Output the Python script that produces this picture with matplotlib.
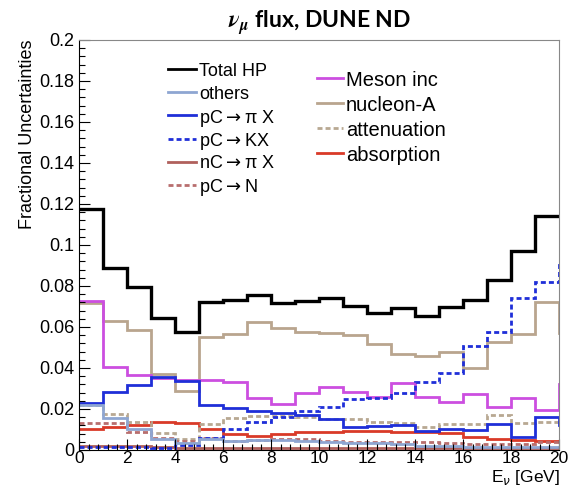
import matplotlib
matplotlib.use("Agg")
import matplotlib.pyplot as plt
import numpy as np
from matplotlib.ticker import MultipleLocator, FuncFormatter

plt.rcParams['font.family'] = ['Liberation Sans', 'DejaVu Sans']
plt.rcParams['mathtext.fontset'] = 'dejavusans'

# energy bins (GeV); the last bin sits past the plotted range
edges = np.arange(0, 22, 1)

total_hp = [0.1176, 0.0886, 0.0797, 0.0645, 0.0577, 0.0723, 0.0730, 0.0756, 0.0715, 0.0725,
            0.0740, 0.0704, 0.0667, 0.0691, 0.0654, 0.0696, 0.0732, 0.0829, 0.0972, 0.1141, 0.1141]
others = [0.0220, 0.0155, 0.0101, 0.0055, 0.0034, 0.0052, 0.0045, 0.0050, 0.0050, 0.0045,
          0.0040, 0.0035, 0.0035, 0.0030, 0.0020, 0.0020, 0.0015, 0.0015, 0.0015, 0.0015, 0.0015]
pc_pix = [0.0231, 0.0285, 0.0317, 0.0358, 0.0338, 0.0220, 0.0206, 0.0190, 0.0179, 0.0171,
          0.0150, 0.0111, 0.0117, 0.0122, 0.0094, 0.0101, 0.0098, 0.0127, 0.0062, 0.0163, 0.0120]
pc_kx = [0.0016, 0.0016, 0.0015, 0.0012, 0.0024, 0.0057, 0.0102, 0.0135, 0.0159, 0.0190,
         0.0211, 0.0247, 0.0252, 0.0276, 0.0333, 0.0374, 0.0509, 0.0574, 0.0740, 0.0821, 0.0900]
nc_pix = [0.0018, 0.0018, 0.0018, 0.0015, 0.0010, 0.0012, 0.0012, 0.0012, 0.0012, 0.0012,
          0.0010, 0.0010, 0.0010, 0.0010, 0.0008, 0.0008, 0.0008, 0.0008, 0.0008, 0.0008, 0.0008]
pc_n = [0.0133, 0.0133, 0.0089, 0.0057, 0.0044, 0.0057, 0.0044, 0.0050, 0.0052, 0.0052,
        0.0045, 0.0040, 0.0038, 0.0040, 0.0037, 0.0033, 0.0030, 0.0030, 0.0030, 0.0037, 0.0037]
meson_inc = [0.0728, 0.0406, 0.0364, 0.0352, 0.0341, 0.0340, 0.0333, 0.0252, 0.0224, 0.0278,
             0.0309, 0.0285, 0.0257, 0.0325, 0.0260, 0.0236, 0.0273, 0.0211, 0.0252, 0.0195, 0.0320]
nucleon_a = [0.0719, 0.0631, 0.0585, 0.0371, 0.0289, 0.0550, 0.0566, 0.0626, 0.0593, 0.0577,
             0.0569, 0.0561, 0.0517, 0.0468, 0.0460, 0.0480, 0.0401, 0.0525, 0.0564, 0.0723, 0.0570]
attenuation = [0.0220, 0.0174, 0.0138, 0.0085, 0.0052, 0.0125, 0.0158, 0.0167, 0.0167, 0.0161,
               0.0150, 0.0150, 0.0138, 0.0133, 0.0114, 0.0125, 0.0125, 0.0171, 0.0130, 0.0138, 0.0138]
absorption = [0.0101, 0.0114, 0.0122, 0.0138, 0.0133, 0.0101, 0.0078, 0.0068, 0.0078, 0.0086,
              0.0089, 0.0094, 0.0092, 0.0089, 0.0089, 0.0085, 0.0062, 0.0052, 0.0049, 0.0045, 0.0045]

dots = (0, (1.8, 1.1))

fig = plt.figure(figsize=(5.81, 4.87), dpi=100)
ax = fig.add_axes([0.136, 0.076, 0.826, 0.842])

# left legend column
left = [
    ("Total HP", total_hp, "black", "-", 2.4),
    ("others", others, "#8ea6d2", "-", 2.0),
    (r"pC$\rightarrow$π X", pc_pix, "#1f2fd8", "-", 2.0),
    (r"pC$\rightarrow$KX", pc_kx, "#1f2fd8", dots, 2.0),
    (r"nC$\rightarrow$π X", nc_pix, "#b0605c", "-", 2.0),
    (r"pC$\rightarrow$N", pc_n, "#b86e6e", dots, 2.0),
]
# right legend column
right = [
    ("Meson inc", meson_inc, "#cc4ee0", "-", 2.0),
    ("nucleon-A", nucleon_a, "#b9a58e", "-", 2.0),
    ("attenuation", attenuation, "#b8a892", dots, 2.0),
    ("absorption", absorption, "#d93a28", "-", 2.0),
]

# draw small contributions first, total on top
for name, vals, col, ls, lw in right[::-1] + left[:0:-1] + left[:1]:
    ax.stairs(vals, edges, baseline=None, color=col, linestyle=ls, linewidth=lw)


# hand-placed two-column key (axes fraction coords)
def key(entries, x0, x1, y0, dy, size):
    for i, (name, vals, col, ls, lw) in enumerate(entries):
        y = y0 - i * dy
        ax.plot([x0, x1], [y, y], transform=ax.transAxes, color=col,
                linestyle=ls, linewidth=2.0, clip_on=False)
        ax.text(x1 + 0.006, y, name, transform=ax.transAxes, fontsize=size,
                va="center_baseline", ha="left")


key(left, 0.185, 0.244, 0.929, 0.0565, 13)
key(right, 0.496, 0.55, 0.907, 0.061, 14.5)

ax.set_xlim(0, 20)
ax.set_ylim(0, 0.2)
ax.xaxis.set_major_locator(MultipleLocator(2))
ax.xaxis.set_minor_locator(MultipleLocator(0.4))
ax.yaxis.set_major_locator(MultipleLocator(0.02))
ax.yaxis.set_minor_locator(MultipleLocator(0.004))
ax.yaxis.set_major_formatter(FuncFormatter(lambda v, p: "%g" % round(v, 3)))
ax.tick_params(which="both", direction="in", labelsize=13, top=False, right=False)
ax.tick_params(which="major", length=8, width=0.8)
ax.tick_params(which="minor", length=4, width=0.8)
ax.tick_params(axis="x", pad=1, labelsize=12.5)

for s in ("top", "right"):
    ax.spines[s].set_color("#888888")

ax.set_ylabel("Fractional Uncertainties", fontsize=13, loc="top", labelpad=2)
fig.text(560 / 581, 5 / 487, r"E$_{\nu}$ [GeV]", fontsize=12.5, ha="right", va="baseline")

fig.text(320 / 581, 1 - 28 / 487, r"$\mathbfit{\nu}_{\mathbfit{\mu}}$ flux, DUNE ND",
         ha="center", va="baseline", fontsize=16.5, fontweight="bold",
         family=["Lato", "DejaVu Sans"], math_fontfamily="stix")

fig.savefig("out.png", dpi=100)
